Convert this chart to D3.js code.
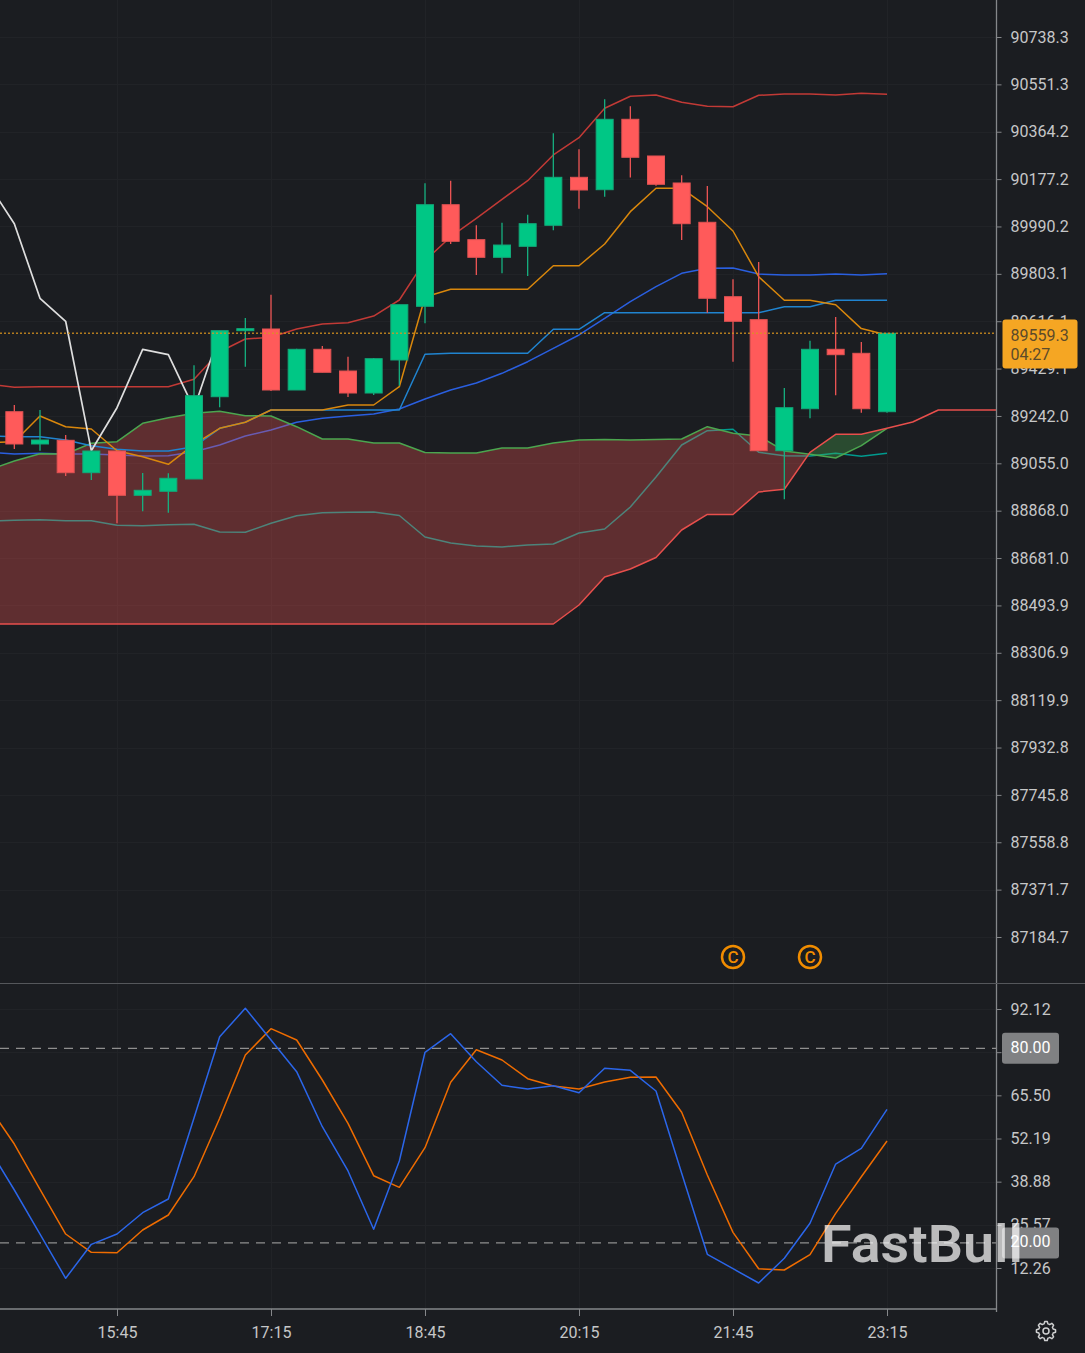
<!DOCTYPE html>
<html><head><meta charset="utf-8">
<script src="https://cdn.jsdelivr.net/npm/d3@7/dist/d3.min.js"></script>
<style>
html,body{margin:0;padding:0;background:#1b1d21;overflow:hidden}
svg{display:block}
text{font-family:Roboto,sans-serif}
</style></head><body><div id="chart"></div>
<script>
// ---- DATA: every series is indexed by bar, 15 minutes apart; index 0 is 14:30 ----
const barMinutes = 15, firstBarMinute = 14*60+30;
const timeTicks = ["15:45","17:15","18:45","20:15","21:45","23:15"];
const priceTicks = [90738.3,90551.3,90364.2,90177.2,89990.2,89803.1,89616.1,89429.1,89242.0,89055.0,88868.0,88681.0,88493.9,88306.9,88119.9,87932.8,87745.8,87558.8,87371.7,87184.7];
const oscTicks = [92.12,78.81,65.50,52.19,38.88,25.57,12.26];
const oscLevels = [80,20];
const lastPriceLabel = "89559.3", countdown = "04:27";
const markerBars = [29,32];
// candles from bar 1
const opens  = [89258.8,89131.3,89145.9,89018,89103.6,88928.7,88944.5,88993.1,89318,89578.7,89585.4,89344.5,89505.2,89419.5,89332.6,89463,89675,90076.1,89938,89868.4,89911.8,89994.8,90184.3,90135.4,90413.4,90268.5,90161.9,90006.7,89712.9,89622.2,89104.8,89270.6,89505.2,89489.4,89258.8];
const highs  = [89285.3,89265.5,89166.8,89103.6,89103.6,89016.8,89015.6,89442,89578.7,89629.2,89720.8,89507.6,89518.2,89476,89470.8,89681.3,90160.6,90170.9,89994.8,90005.1,90036.7,90358.1,90295,90492.4,90464.7,90268.5,90192.3,90150,89781.6,89849.9,89352.4,89539.2,89632.6,89534,89568.4];
const lows   = [89111.5,89104.8,89005,88989.1,88818.2,88865.6,88860.1,88993.1,89276.2,89436.5,89340.5,89344.5,89414.4,89316.8,89324.7,89361.5,89607.9,89921,89798.6,89805.3,89794.7,89975,90060.4,90107.7,90183.1,90151.2,89936.8,89649.8,89456.2,89104.8,88913,89232.7,89323.6,89254.8,89254.8];
const closes = [89131.3,89147.1,89018,89103.6,88928.7,88948.5,88995.9,89322,89578.7,89586.6,89344.5,89505.2,89414.4,89332.6,89468.1,89681.3,90076.1,89931.6,89868.4,89916.9,90001.1,90184.3,90134.2,90413.4,90263.3,90156.7,90001.1,89706.6,89615.8,89104.8,89274.6,89505.2,89483.9,89270.6,89568.4];
// overlays from bar 0
const upperBand = [89368.2,89355.1,89357.5,89357.5,89357.5,89357.5,89357.5,89357.5,89386.7,89495.7,89545.8,89552.6,89585.4,89605.1,89610.2,89636.6,89699.9,89855,89949.9,90022.4,90097.4,90170.9,90272.4,90340.7,90456.8,90504.2,90509.4,90480.5,90464.7,90463.1,90508.1,90513.2,90513.2,90509.4,90516,90512.1];
const conversion = [89136.4,89140.4,89241.8,89199.6,89190.5,89104.8,89081.1,89051.1,89130.1,89193.3,89217,89265.5,89265.5,89265.5,89285.3,89285.3,89357.5,89711.7,89742.1,89742.1,89742.1,89742.1,89835.3,89835.3,89921,90048.6,90141,90141,90068.3,89972.3,89791.8,89698.7,89698.7,89681.3,89587,89561.8];
const baseLine = [89164,89160,89160,89147.1,89124.6,89110.3,89103.6,89103.6,89120.6,89193.3,89217,89265.5,89265.5,89265.5,89265.5,89265.5,89265.5,89485.5,89489.4,89489.4,89489.4,89489.4,89584.2,89584.2,89649.8,89649.8,89649.8,89649.8,89649.8,89649.8,89649.8,89673.4,89673.4,89698.7,89698.7,89698.7];
const midBand = [89098.5,89091.8,89094.6,89091.8,89091.8,89088,89084.1,89085.2,89100.9,89127.4,89162.9,89186.6,89217,89232.7,89241.8,89249.7,89269.4,89308.9,89344.5,89372.1,89410.4,89456.2,89509.1,89561.8,89627.6,89693.2,89752.4,89805.3,89825,89826.2,89802.5,89798.6,89798.6,89802.5,89798.6,89803.7];
const lowerBand = [88827.3,88830,88832.4,88828.5,88828.5,88810.3,88808.7,88812.7,88814.2,88783.8,88782.6,88818.2,88848.2,88860.1,88861.7,88862.9,88849,88764.2,88740.5,88728.6,88724.7,88732.6,88736.5,88779.9,88795.7,88882.6,89001,89127.4,89184,89189.5,89098.5,89085.2,89084,89094.6,89082.9,89094.6];
const spanA = [89028.6,89064.1,89093,89091.8,89134,89140.4,89213,89235.1,89252.5,89260.4,89243,89241.8,89199.6,89151,89151,89135.2,89135.2,89097.7,89095.7,89095.7,89115.5,89115.5,89135.2,89147.1,89149.1,89147.1,89149.1,89151,89199.6,89173.5,89162.9,89103.6,89090.6,89076,89124.6,89193.3];
const spanB = [88420.5,88420.5,88420.5,88420.5,88420.5,88420.5,88420.5,88420.5,88420.5,88420.5,88420.5,88420.5,88420.5,88420.5,88420.5,88420.5,88420.5,88420.5,88420.5,88420.5,88420.5,88420.5,88420.5,88495.5,88606.1,88637.7,88683.1,88791.7,88853,88853,88941.9,88952.5,89098.5,89169.5,89169.5,89193.3,89218.2,89265.5,89265.5,89265.5,89265.5];
const lagging = [90156.7,90001.1,89706.6,89615.8,89104.8,89274.6,89505.2,89483.9,89270.6,89568.4];
const stochK = [49.26,36.31,22.74,9.08,19.56,22.74,29.31,33.53,58.51,83.58,92.34,82.56,72.79,55.83,42.17,24.19,45.25,78.77,84.5,75.87,68.59,67.45,68.47,66.31,73.83,73.22,66.83,41.46,16.48,12.04,7.63,15.25,26.04,44.32,49.17,61.19];
const stochD = [61.99,50.49,36.52,22.74,17.1,16.97,23.97,28.6,40.41,58.42,77.94,86.05,82.56,70.23,56.87,40.72,37.14,49.35,69.52,79.57,76.39,70.63,68.38,67.45,69.61,71.06,71.15,60.27,40.93,23.26,12.04,11.64,16.36,29.12,40.41,51.42];

// ---- SCALES ----
const W=1085,H=1353,axisX=996.5,sepY=983,bottomY=1309;
const minutesOf = s => { const [h,m]=s.split(":").map(Number); return h*60+m; };
const barOf = s => (minutesOf(s)-firstBarMinute)/barMinutes;
const x = d3.scaleLinear().domain([barOf("15:45"),barOf("23:15")]).range([117,887]);
const y = d3.scaleLinear().domain([priceTicks[0],priceTicks[priceTicks.length-1]]).range([37,937]);
const yO = d3.scaleLinear().domain([oscTicks[0],oscTicks[oscTicks.length-1]]).range([1009,1268]);

const svg = d3.select("#chart").append("svg").attr("width",W).attr("height",H);
svg.append("rect").attr("width",W).attr("height",H).attr("fill","#1b1d21");
const defs = svg.append("defs");
defs.append("clipPath").attr("id","top").append("rect").attr("width",axisX).attr("height",sepY);
defs.append("clipPath").attr("id","bot").append("rect").attr("y",sepY).attr("width",axisX).attr("height",bottomY-sepY);

// ---- GRID ----
const grid = svg.append("g").attr("stroke","#212327").attr("stroke-width",1);
grid.selectAll(".h").data(priceTicks).join("line").attr("x1",0).attr("x2",axisX).attr("y1",d=>Math.round(y(d))+.5).attr("y2",d=>Math.round(y(d))+.5);
grid.selectAll(".ho").data(oscTicks).join("line").attr("x1",0).attr("x2",axisX).attr("y1",d=>Math.round(yO(d))+.5).attr("y2",d=>Math.round(yO(d))+.5);
grid.selectAll(".v").data(timeTicks).join("line").attr("x1",d=>Math.round(x(barOf(d)))+.5).attr("x2",d=>Math.round(x(barOf(d)))+.5).attr("y1",0).attr("y2",bottomY);

const main = svg.append("g").attr("clip-path","url(#top)");
const lineOf = (sc,start=0)=>d3.line().x((d,i)=>x(i+start)).y(d=>sc(d));
const drawLine=(g,data,sc,color,start=0,w=1.5,op=1)=>g.append("path").attr("d",lineOf(sc,start)(data)).attr("fill","none").attr("stroke",color).attr("stroke-width",w).attr("stroke-opacity",op).attr("stroke-linejoin","round");

// ---- lines that sit under the cloud tint ----
drawLine(main,midBand,y,"#2a5fe0");
drawLine(main,lowerBand,y,"#009a8e");

// ---- CLOUD ----
const idx = d3.range(spanA.length);
const pts = idx.map(i=>({i,a:spanA[i],b:spanB[i]}));
const band = d3.area().x(d=>x(d.i)).y0(d=>y(d.b)).y1(d=>y(d.a));
defs.append("clipPath").attr("id","aboveB").append("path").attr("d",d3.area().x(d=>x(d.i)).y0(0).y1(d=>y(d.b))(pts));
defs.append("clipPath").attr("id","belowB").append("path").attr("d",d3.area().x(d=>x(d.i)).y0(sepY).y1(d=>y(d.b))(pts));
main.append("path").attr("d",band(pts)).attr("fill","#ef5350").attr("fill-opacity",.32).attr("clip-path","url(#aboveB)");
main.append("path").attr("d",band(pts)).attr("fill","#4caf50").attr("fill-opacity",.32).attr("clip-path","url(#belowB)");

// ---- other overlays ----
drawLine(main,spanA,y,"#4ba64f");
drawLine(main,spanB,y,"#e84f4c");
drawLine(main,upperBand,y,"#c23a36");
drawLine(main,baseLine,y,"#2084d0");
drawLine(main,conversion,y,"#d9870c");
drawLine(main,lagging,y,"#dedede",0,1.7);

// ---- CANDLES ----
const up="#00c785",dn="#ff5a5a",upEdge="#12a97a",dnEdge="#e25353";
const candles = opens.map((o,k)=>({bar:k+1,o,h:highs[k],l:lows[k],c:closes[k]}));
const cg = main.append("g").selectAll("g").data(candles).join("g");
cg.append("line").attr("x1",d=>x(d.bar)).attr("x2",d=>x(d.bar)).attr("y1",d=>y(d.h)).attr("y2",d=>y(d.l))
  .attr("stroke",d=>d.c>=d.o?"#16b080":"#ee5555").attr("stroke-width",1.3);
cg.append("rect").attr("x",d=>x(d.bar)-8.5).attr("width",17)
  .attr("y",d=>y(Math.max(d.o,d.c))).attr("height",d=>Math.abs(y(d.o)-y(d.c)))
  .attr("fill",d=>d.c>=d.o?up:dn).attr("stroke",d=>d.c>=d.o?upEdge:dnEdge).attr("stroke-width",1);

// last price line
const lastY = y(closes[closes.length-1]);
svg.append("line").attr("x1",0).attr("x2",axisX).attr("y1",lastY).attr("y2",lastY)
  .attr("stroke","#d9951f").attr("stroke-width",1.4).attr("stroke-dasharray","2 2").attr("stroke-opacity",.8);

// markers
const mk = svg.append("g").selectAll("g").data(markerBars).join("g").attr("transform",d=>`translate(${x(d)},957)`);
mk.append("circle").attr("r",11).attr("fill","none").attr("stroke","#f08c00").attr("stroke-width",2.5);
mk.append("text").attr("text-anchor","middle").attr("dy","0.36em").attr("font-size",17).attr("font-weight",500).attr("fill","#f08c00").text("C");

// ---- OSCILLATOR ----
const osc = svg.append("g").attr("clip-path","url(#bot)");
osc.selectAll("line").data(oscLevels).join("line").attr("x1",0).attr("x2",axisX).attr("y1",d=>yO(d)).attr("y2",d=>yO(d))
  .attr("stroke","#8f8f8f").attr("stroke-width",1.2).attr("stroke-dasharray","9 7");
drawLine(osc,stochD,yO,"#ef6c00",0,1.5);
drawLine(osc,stochK,yO,"#2b66ea",0,1.5);

// ---- AXES ----
function styleAxis(g){
  g.select(".domain").attr("stroke","#85878a").attr("stroke-width",1.3);
  g.selectAll(".tick line").attr("stroke","#85878a").attr("stroke-width",1);
  g.selectAll(".tick text").attr("fill","#c6c7c8").attr("font-size",16).attr("font-family","Roboto, sans-serif");
}
svg.append("g").attr("transform",`translate(${axisX},0)`)
  .call(d3.axisRight(y).tickValues(priceTicks).tickSize(5).tickPadding(9).tickSizeOuter(0).tickFormat(d3.format(".1f"))).call(styleAxis)
  .select(".domain").attr("d",`M0,0V${sepY}`);
svg.append("g").attr("transform",`translate(${axisX},0)`)
  .call(d3.axisRight(yO).tickValues(oscTicks).tickSize(5).tickPadding(9).tickSizeOuter(0).tickFormat(d3.format(".2f"))).call(styleAxis)
  .select(".domain").attr("d",`M0,${sepY}V${bottomY+3}`);
svg.append("g").attr("transform",`translate(0,${bottomY})`)
  .call(d3.axisBottom(x).tickValues(timeTicks.map(barOf)).tickSize(7).tickPadding(11).tickSizeOuter(0).tickFormat((d,i)=>timeTicks[i])).call(styleAxis)
  .select(".domain").attr("d",`M0,0H${axisX}`);
svg.append("line").attr("x1",0).attr("x2",W).attr("y1",sepY+.5).attr("y2",sepY+.5).attr("stroke","#55575b").attr("stroke-width",1);

// level tags
const tags = svg.append("g").selectAll("g").data(oscLevels).join("g").attr("transform",d=>`translate(1002,${yO(d)-15.5})`);
tags.append("rect").attr("width",57).attr("height",31).attr("rx",3).attr("fill","#808183");
tags.append("text").attr("x",28.5).attr("y",14).attr("dy","0.36em").attr("text-anchor","middle").attr("fill","#fff").attr("font-size",16).text(d=>d3.format(".2f")(d));

// last price tag
const pt = svg.append("g").attr("transform","translate(1002.5,319.5)");
pt.append("rect").attr("width",75).attr("height",49).attr("rx",3).attr("fill","#f5a623");
pt.append("text").attr("x",8).attr("y",15.5).attr("dy","0.36em").attr("fill","#5b4a2a").attr("font-size",16).text(lastPriceLabel);
pt.append("text").attr("x",8).attr("y",34.5).attr("dy","0.36em").attr("fill","#5b4a2a").attr("font-size",16).text(countdown);

// gear
const teeth=d3.range(48).map(i=>{const a=i/48*2*Math.PI,ph=(i%6);return [a,(ph===0||ph===1||ph===5)?9.6:7.4];});
const gear=svg.append("g").attr("transform","translate(1046,1331)").attr("fill","none").attr("stroke","#cfd0d1").attr("stroke-width",1.5);
gear.append("path").attr("d",d3.lineRadial().curve(d3.curveLinearClosed)(teeth)).attr("stroke-linejoin","round");
gear.append("circle").attr("r",3);

// watermark
svg.append("text").attr("x",821).attr("y",1262).attr("font-family","Inter, Roboto, sans-serif").attr("font-weight",600).attr("font-size",51)
  .attr("textLength",202).attr("lengthAdjust","spacingAndGlyphs").attr("fill","#fff").attr("fill-opacity",.7).text("FastBull");
</script></body></html>
